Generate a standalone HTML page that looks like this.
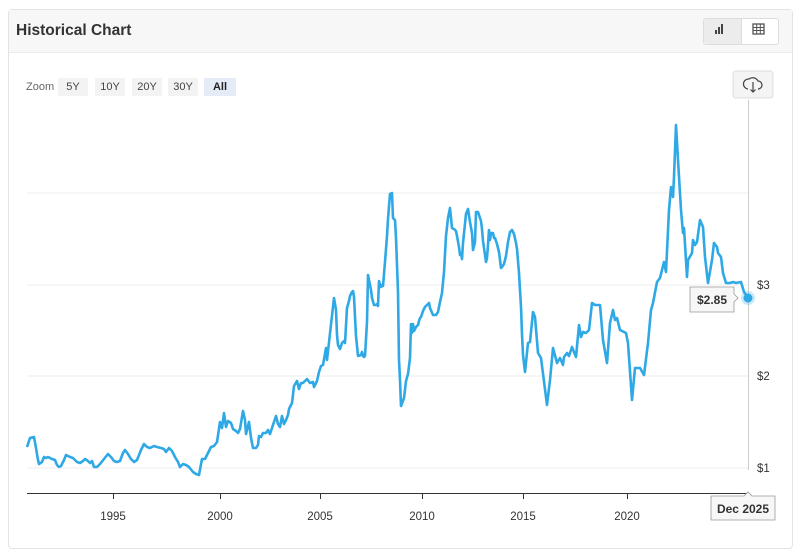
<!DOCTYPE html>
<html><head><meta charset="utf-8"><style>
body{margin:0;width:800px;height:554px;background:#fff;font-family:"Liberation Sans",sans-serif;overflow:hidden;position:relative}
.card{position:absolute;left:8px;top:9px;width:783px;height:538px;border:1px solid #e3e3e3;border-radius:4px}
.hdr{position:absolute;left:0;top:0;right:0;height:42px;background:#f7f7f7;border-bottom:1px solid #ececec}
.t{position:absolute;left:7px;top:12px;font-size:15.5px;font-weight:bold;color:#333}
.tg{position:absolute;left:694px;top:8px;width:74px;height:25px;border:1px solid #ddd;border-radius:3px;background:#fff}
.tg div{position:absolute;top:0;height:25px;width:37px}
.z{position:absolute;top:78px;font-size:11px;color:#444;height:18px;line-height:18px;text-align:center}
</style></head><body>
<div class="card"><div class="hdr"><div class="t">Historical Chart</div>
<div class="tg"><div style="left:0;background:#ececec;border-right:1px solid #ddd"></div></div></div></div>
<svg style="position:absolute;left:0;top:0" width="800" height="554">
<rect x="715" y="30" width="2" height="4" fill="#444"/><rect x="718" y="27" width="2" height="7" fill="#444"/><rect x="721" y="24" width="2" height="10" fill="#444"/>
<rect x="753" y="24" width="11" height="10" fill="none" stroke="#555" stroke-width="1.3"/><path d="M753 27.5H764M753 30.5H764M756.7 24V34M760.3 24V34" stroke="#555" stroke-width="1"/>
<rect x="733" y="71" width="40" height="27" rx="3" fill="#f4f4f4" stroke="#ddd"/>
<path d="M748 89a5 5 0 0 1 1-10a6 6 0 0 1 9 2a4 4 0 0 1 0 8M753 82v10M750.5 89.5l2.5 2.5 2.5-2.5" fill="none" stroke="#444" stroke-width="1.2"/>
<g stroke="#ececec" stroke-width="1"><line x1="27" y1="193" x2="748" y2="193"/><line x1="27" y1="285" x2="748" y2="285"/><line x1="27" y1="376" x2="748" y2="376"/><line x1="27" y1="468" x2="748" y2="468"/></g>
<line x1="748.5" y1="100" x2="748.5" y2="470" stroke="#ccc"/>
<line x1="27" y1="493.5" x2="748" y2="493.5" stroke="#333"/>
<g stroke="#333"><line x1="113.5" y1="493" x2="113.5" y2="499"/><line x1="220.5" y1="493" x2="220.5" y2="499"/><line x1="320.5" y1="493" x2="320.5" y2="499"/><line x1="422.5" y1="493" x2="422.5" y2="499"/><line x1="523.5" y1="493" x2="523.5" y2="499"/><line x1="627.5" y1="493" x2="627.5" y2="499"/></g>
<g font-size="11.5" fill="#333" text-anchor="middle"><text x="113" y="520">1995</text><text x="220" y="520">2000</text><text x="320" y="520">2005</text><text x="422" y="520">2010</text><text x="523" y="520">2015</text><text x="627" y="520">2020</text></g>
<g font-size="11.5" fill="#333"><text x="757" y="289">$3</text><text x="757" y="380">$2</text><text x="757" y="472">$1</text></g>
<polyline fill="none" stroke="#2fa8e6" stroke-width="2.6" stroke-linejoin="round" points="27,447 30,438 34,437 36,448 38,460 39,464 42,462 44,457 46,458 48,457 52,459 55,460 57,465 59,467 61,466 64,460 66,455 70,457 73,458 75,460 77,462 80,463 83,461 85,459 88,461 90,463 92,461 94,467 97,467 100,464 104,459 108,454 111,457 114,461 117,462 120,461 123,453 125,450 128,454 131,459 134,462 137,460 141,450 144,444 147,447 150,448 154,446 157,447 161,448 164,449 166,452 169,448 172,451 175,457 178,462 180,467 183,464 186,465 189,467 193,472 196,474 199,475 202,459 205,459 208,453 211,447 214,446 217,442 220,422 222,428 224,413 226,427 228,421 231,423 233,429 236,431 238,433 240,429 243,411 245,420 246,434 248,426 249,422 251,438 253,448 256,448 258,445 259,436 261,437 263,433 266,433 268,430 270,434 272,428 274,422 276,416 278,424 280,427 282,416 284,424 286,420 288,415 289,409 292,403 294,386 297,381 299,389 301,383 303,383 305,381 307,379 310,383 313,382 314,387 317,381 319,372 321,366 323,365 326,348 327,360 334,298 336,310 337,335 338,345 340,349 342,343 344,341 345,343 347,308 349,301 350,296 351,294 352,292 353,291 354,297 356,336 358,356 361,355 362,352 363,356 364,357 365,356 367,322 368,275 371,290 372,298 374,305 376,305 377,304 378,306 379,281 380,285 381,287 382,285 383,286 385,262 387,236 388,219 390,194 392,193 393,218 395,220 396,238 398,292 399,360 400,380 401,406 404,398 406,381 408,374 409,366 410,358 411,324 412,333 413,324 414,331 416,327 418,325 419,321 420,318 421,317 423,311 425,307 427,305 429,303 430,308 433,315 436,315 438,312 440,302 442,293 444,272 446,236 448,218 450,208 452,228 454,229 456,231 457,236 459,247 460,255 461,253 462,259 463,243 466,214 468,209 470,222 472,233 473,250 475,242 476,212 478,212 481,221 482,229 483,241 486,262 487,258 488,245 489,230 490,240 491,233 493,233 494,238 495,238 497,244 499,252 501,268 502,267 504,264 506,256 508,242 510,232 512,230 514,234 516,243 517,249 519,273 521,307 522,334 523,355 525,372 528,343 530,342 533,312 535,317 538,353 541,358 547,405 550,380 553,348 557,363 560,358 563,365 564,357 567,353 569,356 572,347 576,357 579,325 581,337 583,332 586,333 589,330 592,303 595,305 600,305 603,340 607,363 610,323 613,310 615,320 617,318 620,330 626,333 628,343 632,400 635,368 640,368 644,375 648,343 651,310 653,303 657,282 660,278 664,262 666,272 669,210 671,187 673,197 674,177 676,125 678,160 681,210 683,233 684,228 687,277 688,260 692,253 693,240 695,245 697,242 700,220 703,227 705,257 708,283 712,260 714,243 717,247 718,253 721,257 723,273 726,283 730,283 733,282 736,283 741,282 744,292 748,298"/>
<circle cx="748" cy="298" r="7" fill="#2fa8e6" opacity="0.25"/><circle cx="748" cy="298" r="4.5" fill="#2fa8e6"/>
<path d="M690 287h44v7l4 4-4 4v10h-44z" fill="#f7f7f7" stroke="#999" stroke-width="0.8"/>
<text x="712" y="304" font-size="12" font-weight="bold" fill="#333" text-anchor="middle">$2.85</text>
<path d="M711 496h33l4-4 4 4h23v24h-64z" fill="#f7f7f7" stroke="#999" stroke-width="0.8"/>
<text x="743" y="513" font-size="12" font-weight="bold" fill="#333" text-anchor="middle">Dec 2025</text>
</svg>
<div class="z" style="left:26px;color:#666">Zoom</div>
<div class="z" style="left:58px;width:30px;background:#f3f3f3">5Y</div>
<div class="z" style="left:95px;width:30px;background:#f3f3f3">10Y</div>
<div class="z" style="left:132px;width:30px;background:#f3f3f3">20Y</div>
<div class="z" style="left:168px;width:30px;background:#f3f3f3">30Y</div>
<div class="z" style="left:204px;width:32px;background:#e6ebf8;font-weight:bold;color:#222">All</div>
</body></html>
